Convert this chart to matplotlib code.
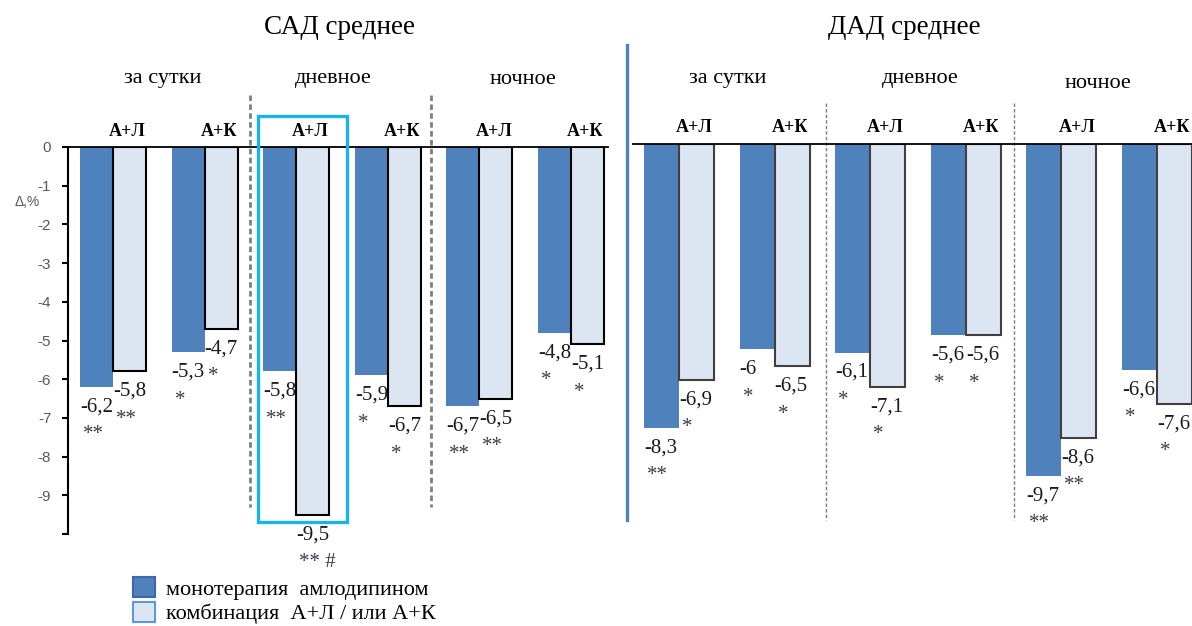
import matplotlib
matplotlib.use('Agg')
import matplotlib.pyplot as plt
from matplotlib.patches import Rectangle, Patch
from matplotlib.lines import Line2D

# ---------------- data ----------------
panel_titles = ['САД среднее', 'ДАД среднее']
periods = ['за сутки', 'дневное', 'ночное']
pair_labels = ['А+Л', 'А+К', 'А+Л', 'А+К', 'А+Л', 'А+К']

sad_mono = [-6.2, -5.3, -5.8, -5.9, -6.7, -4.8]
sad_comb = [-5.8, -4.7, -9.5, -6.7, -6.5, -5.1]
sad_mono_sig = ['**', '*', '**', '*', '**', '*']
sad_comb_sig = ['**', '*', '** #', '*', '**', '*']

dad_mono = [-8.3, -6.0, -6.1, -5.6, -9.7, -6.6]
dad_comb = [-6.9, -6.5, -7.1, -5.6, -8.6, -7.6]
dad_mono_sig = ['**', '*', '*', '*', '**', '*']
dad_comb_sig = ['*', '*', '*', '*', '**', '*']

yticks = [0, -1, -2, -3, -4, -5, -6, -7, -8, -9, -10]
ytick_labels = ['0', '-1', '-2', '-3', '-4', '-5', '-6', '-7', '-8', '-9', '']
legend_labels = ['монотерапия  амлодипином', 'комбинация  А+Л / или А+К']

# ---------------- style ----------------
W, H, DPI = 1192, 626, 100
DARK = '#4F81BD'
LIGHT = '#DCE6F2'
SERIF = ['Liberation Serif', 'DejaVu Serif']
SANS = ['Liberation Sans', 'DejaVu Sans']
PT = 0.72  # points per pixel

fig = plt.figure(figsize=(W / DPI, H / DPI), dpi=DPI)


def rect_px(x0, y0, x1, y1):
    return [x0 / W, 1 - y1 / H, (x1 - x0) / W, (y1 - y0) / H]


def fmt(v):
    return f'{v:g}'.replace('.', ',')


def draw_panel(ax, mono, comb, mono_sig, comb_sig, step_px, barw_px, comb_edge,
               line_right, dash_pos, dash_y, dash_style, dash_lw, period_dx, period_dy):
    n = len(mono)
    bw = barw_px / step_px
    xs = list(range(n))
    xm = [x - bw / 2 for x in xs]
    xc = [x + bw / 2 for x in xs]
    ax.bar(xm, mono, width=bw, color=DARK, edgecolor='none', zorder=2)
    ax.bar(xc, comb, width=bw, color=LIGHT, edgecolor=comb_edge, linewidth=1.5, zorder=2)
    ax.plot([ax.get_xlim()[0], line_right], [0, 0], color='black', lw=1.3,
            zorder=3, clip_on=False)
    for xd in dash_pos:
        ax.plot([xd, xd], dash_y, color='#7F7F7F', lw=dash_lw, ls=dash_style,
                clip_on=False, zorder=1)
    for xpos, vals, sigs in ((xm, mono, mono_sig), (xc, comb, comb_sig)):
        for x, v, s in zip(xpos, vals, sigs):
            ax.annotate(fmt(v), xy=(x - bw / 2, v), xytext=(0, -20 * PT),
                        textcoords='offset points', ha='left', va='center',
                        fontsize=15, family=SERIF, color='#1A1A1A', annotation_clip=False)
            ax.annotate(s, xy=(x - bw / 2, v), xytext=(3 * PT, -48 * PT),
                        textcoords='offset points', ha='left', va='center',
                        fontsize=15, family=SERIF, color='#3A3A4A', annotation_clip=False)
    for x, lab in zip(xc, pair_labels):
        ax.annotate(lab, xy=(x, 0), xytext=(-2 * PT, 16 * PT), textcoords='offset points',
                    ha='center', va='center', fontsize=13, fontweight='bold',
                    family=SERIF, color='black', annotation_clip=False)
    for i, p in enumerate(periods):
        ax.annotate(p, xy=(2 * i + 0.5, 0), xytext=(period_dx[i] * PT, period_dy[i] * PT),
                    textcoords='offset points', ha='center', va='center', fontsize=16,
                    family=SERIF, color='black', annotation_clip=False)
    for s in ax.spines.values():
        s.set_visible(False)
    ax.set_xticks([])
    ax.patch.set_alpha(0)


# ---------- left panel (САД) ----------
axL = fig.add_axes(rect_px(68, 147, 620, 534))
stepL = 91.6
axL.set_xlim((68 - 113) / stepL, (620 - 113) / stepL)
axL.set_ylim(-10, 0)
draw_panel(axL, sad_mono, sad_comb, sad_mono_sig, sad_comb_sig, stepL, 33, 'black',
           (608 - 113) / stepL, [1.5, 3.47], [1.34, -9.3], (0, (2, 1.2)), 2.0,
           [4, -9, -2], [68, 68, 68])
axL.spines['left'].set_visible(True)
axL.spines['left'].set_linewidth(1.5)
axL.set_yticks(yticks)
axL.set_yticklabels(ytick_labels, family=SANS)
axL.tick_params(axis='y', direction='out', length=4, width=1.5, labelsize=11,
                labelcolor='#595959', pad=8)
axL.text(-0.074, 0.858, 'Δ,%', transform=axL.transAxes, fontsize=10, color='#595959',
         family=SANS, ha='center', va='center')
axL.add_patch(Rectangle((2 - 0.417, -9.69), 0.972, 10.49, fill=False, edgecolor='#1AB2EC',
                        linewidth=2.4, clip_on=False, zorder=4))

# ---------- right panel (ДАД) ----------
axR = fig.add_axes(rect_px(633, 144, 1192, 520))
stepR = 95.6
axR.set_xlim((633 - 679) / stepR, (1192 - 679) / stepR)
axR.set_ylim(-11, 0)
draw_panel(axR, dad_mono, dad_comb, dad_mono_sig, dad_comb_sig, stepR, 35, '#404040',
           axR.get_xlim()[1], [1.54, 3.5], [1.2, -11.0], (0, (2.5, 1.5)), 1.0,
           [1, 2, -11], [65, 65, 61])
axR.set_yticks([])

# separators and titles
fig.add_artist(Line2D([627 / W, 627 / W], [1 - 45 / H, 1 - 520 / H], color=DARK, lw=2.4))
fig.text(340 / W, 1 - 28 / H, panel_titles[0], ha='center', va='center',
         fontsize=19.5, family=SERIF)
fig.text(904 / W, 1 - 28 / H, panel_titles[1], ha='center', va='center',
         fontsize=19.5, family=SERIF)

# legend
handles = [Patch(facecolor=DARK, edgecolor='#3C6AA6', linewidth=1.5),
           Patch(facecolor=LIGHT, edgecolor='#5B9BD5', linewidth=1.5)]
fig.legend(handles, legend_labels, loc='upper left', bbox_to_anchor=(133 / W, 1 - 577 / H),
           frameon=False, prop={'family': SERIF, 'size': 16}, handlelength=1.0,
           handleheight=1.0, handletextpad=0.5, labelspacing=0.1, borderaxespad=0,
           borderpad=0)

fig.savefig('out.png', dpi=DPI)
